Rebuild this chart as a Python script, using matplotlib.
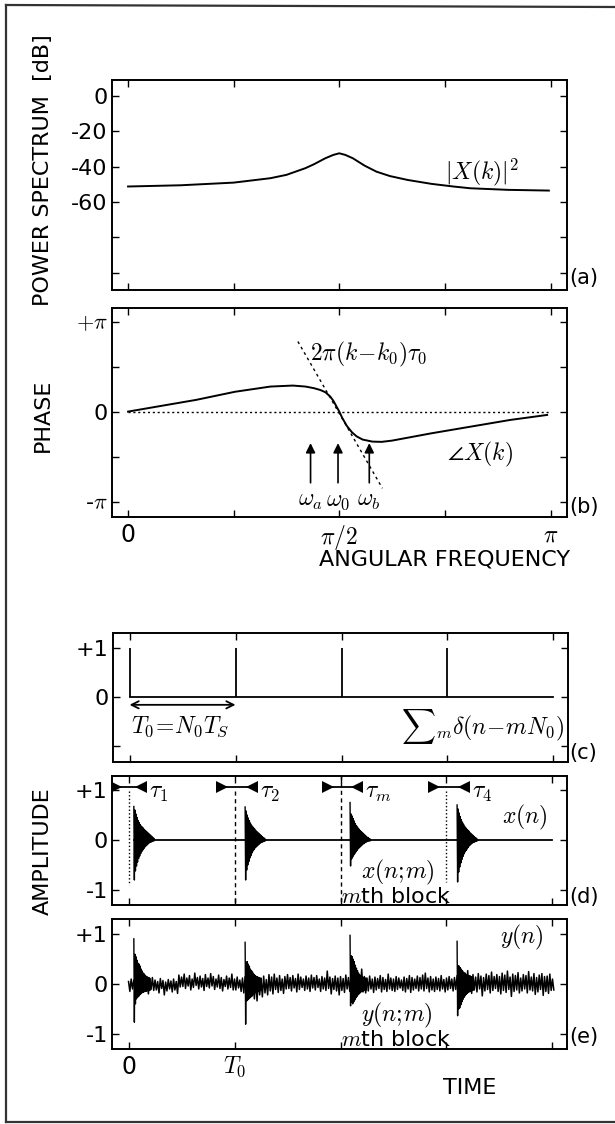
import matplotlib
matplotlib.use("Agg")
import matplotlib.pyplot as plt
from matplotlib.lines import Line2D

# ---- data ----
# (a) power spectrum, omega in units of pi
spec_w = [0.0, 0.125, 0.25, 0.337, 0.375, 0.42, 0.44, 0.467, 0.486, 0.50,
          0.514, 0.532, 0.56, 0.588, 0.62, 0.662, 0.718, 0.77, 0.81, 0.90, 0.996]
spec_db = [-51.2, -50.5, -49.0, -46.5, -44.6, -40.8, -38.6, -35.2, -33.3, -32.4,
           -33.3, -35.2, -39.4, -42.8, -45.3, -47.5, -49.7, -51.2, -52.2, -53.1, -53.5]

# (b) phase, in units of pi
phase_w = [0.0, 0.161, 0.253, 0.337, 0.39, 0.42, 0.44, 0.455, 0.467, 0.478, 0.486, 0.493,
           0.50, 0.507, 0.518, 0.53, 0.541, 0.555, 0.578, 0.60, 0.625, 0.718, 0.811, 0.904, 0.992]
phase_v = [0.0, 0.13, 0.22, 0.278, 0.289, 0.278, 0.26, 0.24, 0.215, 0.17, 0.12, 0.06,
           0.0, -0.07, -0.16, -0.23, -0.275, -0.31, -0.333, -0.336, -0.322, -0.241, -0.167, -0.093, -0.037]
tangent_w = [0.402, 0.602]
tangent_v = [0.778, -0.851]
omega_marks = [0.432, 0.497, 0.571]
omega_names = [r"$\omega_a$", r"$\omega_0$", r"$\omega_b$"]

# (c) impulse train, time in units of T0
comb_n = [0, 1, 2, 3]
comb_amp = [1, 1, 1, 1]
t_end = 4.0

# (d) delays per block and decaying bursts (envelope samples, 0.01 T0 apart)
tau = [0.05, 0.10, 0.09, 0.10]
tau_names = [r"$\tau_1$", r"$\tau_2$", r"$\tau_m$", r"$\tau_4$"]
burst_step = 0.01
x_hi = [
    [0.67, 0.60, 0.52, 0.45, 0.39, 0.35, 0.31, 0.28, 0.26, 0.24, 0.21, 0.19, 0.17, 0.15, 0.13, 0.11, 0.09, 0.07, 0.05, 0.03],
    [0.66, 0.58, 0.50, 0.44, 0.39, 0.34, 0.30, 0.27, 0.24, 0.22, 0.19, 0.17, 0.15, 0.13, 0.11, 0.09, 0.07, 0.05, 0.04, 0.02],
    [0.75, 0.52, 0.48, 0.43, 0.38, 0.33, 0.29, 0.26, 0.23, 0.20, 0.18, 0.16, 0.14, 0.12, 0.10, 0.08, 0.06, 0.05, 0.03, 0.02],
    [0.70, 0.62, 0.54, 0.47, 0.41, 0.36, 0.32, 0.28, 0.25, 0.22, 0.20, 0.18, 0.15, 0.13, 0.11, 0.09, 0.07, 0.05, 0.04, 0.02],
]
x_lo = [
    [-0.80, -0.62, -0.52, -0.44, -0.37, -0.32, -0.27, -0.23, -0.20, -0.17, -0.14, -0.12, -0.10, -0.08, -0.06, -0.05, -0.04, -0.03, -0.02, -0.01],
    [-0.80, -0.60, -0.50, -0.43, -0.36, -0.31, -0.26, -0.22, -0.19, -0.16, -0.14, -0.12, -0.10, -0.08, -0.06, -0.05, -0.04, -0.03, -0.02, -0.01],
    [-0.52, -0.38, -0.34, -0.30, -0.27, -0.24, -0.21, -0.18, -0.16, -0.14, -0.12, -0.10, -0.08, -0.07, -0.05, -0.04, -0.03, -0.02, -0.02, -0.01],
    [-0.84, -0.64, -0.54, -0.46, -0.39, -0.33, -0.28, -0.24, -0.21, -0.18, -0.15, -0.12, -0.10, -0.08, -0.06, -0.05, -0.04, -0.03, -0.02, -0.01],
]

# (e) noisy observation: noise extremes every 0.025 T0, plus bursts
noise_step = 0.025
noise_hi = [
    0.05, 0.10, 0.08, 0.12, 0.07, 0.11, 0.09, 0.06, 0.10, 0.13,
    0.08, 0.05, 0.11, 0.07, 0.04, 0.09, 0.06, 0.10, 0.05, 0.18,
    0.14, 0.20, 0.12, 0.17, 0.10, 0.22, 0.13, 0.16, 0.11, 0.19,
    0.12, 0.21, 0.15, 0.10, 0.18, 0.13, 0.09, 0.16, 0.12, 0.20,
    0.10, 0.14, 0.08, 0.12, 0.15, 0.11, 0.13, 0.09, 0.12, 0.10,
    0.11, 0.16, 0.09, 0.19, 0.14, 0.20, 0.12, 0.17, 0.10, 0.15,
    0.19, 0.13, 0.17, 0.11, 0.20, 0.14, 0.10, 0.16, 0.12, 0.18,
    0.13, 0.17, 0.10, 0.15, 0.12, 0.26, 0.14, 0.11, 0.16, 0.12,
    0.15, 0.11, 0.18, 0.13, 0.16, 0.12, 0.18, 0.14, 0.30, 0.15,
    0.12, 0.16, 0.10, 0.14, 0.11, 0.17, 0.13, 0.09, 0.20, 0.12,
    0.10, 0.15, 0.12, 0.08, 0.14, 0.11, 0.17, 0.13, 0.10, 0.16,
    0.13, 0.18, 0.22, 0.12, 0.15, 0.10, 0.14, 0.11, 0.17, 0.09,
    0.12, 0.15, 0.10, 0.13, 0.17, 0.14, 0.18, 0.22, 0.27, 0.16,
    0.19, 0.14, 0.21, 0.16, 0.13, 0.20, 0.17, 0.24, 0.15, 0.19,
    0.15, 0.22, 0.18, 0.26, 0.14, 0.20, 0.17, 0.23, 0.12, 0.19,
    0.17, 0.25, 0.14, 0.21, 0.13, 0.18, 0.21, 0.15, 0.16, 0.20,
    0.10]
noise_lo = [
    -0.15, -0.10, -0.14, -0.09, -0.17, -0.12, -0.08, -0.20, -0.11, -0.13,
    -0.12, -0.18, -0.09, -0.22, -0.14, -0.10, -0.16, -0.12, -0.19, -0.06,
    -0.05, -0.09, -0.04, -0.12, -0.07, -0.03, -0.10, -0.06, -0.13, -0.05,
    -0.08, -0.04, -0.11, -0.06, -0.09, -0.14, -0.05, -0.10, -0.07, -0.12,
    -0.12, -0.08, -0.15, -0.18, -0.14, -0.20, -0.25, -0.30, -0.34, -0.22,
    -0.26, -0.18, -0.22, -0.14, -0.20, -0.11, -0.17, -0.13, -0.19, -0.10,
    -0.09, -0.14, -0.08, -0.16, -0.11, -0.07, -0.13, -0.10, -0.15, -0.08,
    -0.12, -0.07, -0.15, -0.10, -0.13, -0.09, -0.20, -0.11, -0.14, -0.22,
    -0.13, -0.17, -0.10, -0.15, -0.20, -0.14, -0.19, -0.12, -0.16, -0.18,
    -0.14, -0.10, -0.17, -0.12, -0.09, -0.16, -0.11, -0.15, -0.10, -0.13,
    -0.15, -0.11, -0.08, -0.13, -0.16, -0.10, -0.17, -0.12, -0.09, -0.14,
    -0.10, -0.14, -0.09, -0.16, -0.12, -0.15, -0.11, -0.14, -0.10, -0.16,
    -0.12, -0.09, -0.14, -0.11, -0.16, -0.18, -0.22, -0.15, -0.14, -0.19,
    -0.12, -0.16, -0.10, -0.24, -0.14, -0.11, -0.18, -0.13, -0.09, -0.15,
    -0.20, -0.13, -0.17, -0.11, -0.25, -0.15, -0.12, -0.18, -0.14, -0.10,
    -0.18, -0.12, -0.14, -0.21, -0.16, -0.11, -0.23, -0.15, -0.19, -0.13,
    -0.12]
y_hi = [
    [0.91, 0.60, 0.55, 0.48, 0.42, 0.40, 0.36, 0.30, 0.26, 0.22, 0.20, 0.17, 0.15, 0.14, 0.13, 0.12],
    [0.84, 0.44, 0.45, 0.40, 0.36, 0.30, 0.27, 0.24, 0.20, 0.18, 0.16, 0.15, 0.14, 0.13, 0.12, 0.12],
    [0.98, 0.57, 0.55, 0.50, 0.45, 0.38, 0.32, 0.27, 0.22, 0.19, 0.17, 0.15, 0.14, 0.13, 0.12, 0.12],
    [0.86, 0.37, 0.36, 0.33, 0.30, 0.27, 0.24, 0.22, 0.20, 0.19, 0.18, 0.17, 0.16, 0.15, 0.14, 0.13],
]
y_lo = [
    [-0.77, -0.40, -0.30, -0.27, -0.25, -0.22, -0.20, -0.18, -0.17, -0.16, -0.15, -0.15, -0.14, -0.13, -0.13, -0.12],
    [-0.81, -0.34, -0.32, -0.30, -0.28, -0.26, -0.24, -0.22, -0.20, -0.18, -0.17, -0.16, -0.15, -0.14, -0.13, -0.12],
    [-0.44, -0.37, -0.40, -0.36, -0.32, -0.28, -0.25, -0.22, -0.20, -0.18, -0.16, -0.15, -0.14, -0.13, -0.12, -0.12],
    [-0.64, -0.50, -0.48, -0.42, -0.36, -0.31, -0.27, -0.24, -0.21, -0.19, -0.17, -0.16, -0.15, -0.14, -0.13, -0.12],
]

W, H = 615, 1124


def box(l, t, r, b):
    return [l / W, 1 - b / H, (r - l) / W, (b - t) / H]


def zigzag(ax, start, step, hi, lo, lw=1.0):
    # alternate between upper and lower extremes to draw a dense trace
    xs, ys = [], []
    for k in range(len(hi)):
        xs += [start + k * step, start + (k + 0.5) * step]
        ys += [hi[k], lo[k]]
    ax.plot(xs, ys, color="k", lw=lw)


def style(ax):
    ax.tick_params(direction="in", top=True, right=True, length=5, width=1,
                   labelsize=16, pad=3)
    for s in ax.spines.values():
        s.set_linewidth(1.4)


def main():
    plt.rcParams["font.family"] = ["DejaVu Sans"]
    plt.rcParams["mathtext.fontset"] = "cm"
    plt.rcParams["axes.unicode_minus"] = False

    fig = plt.figure(figsize=(6.15, 11.24), dpi=100)

    # ---- (a) power spectrum ----
    ax = fig.add_axes(box(112, 80, 567, 290))
    ax.plot(spec_w, spec_db, color="k", lw=1.4)
    ax.set_xlim(-0.038, 1.039)
    ax.set_ylim(-109.8, 9.1)
    ax.set_xticks([0, 0.25, 0.5, 0.75, 1.0], [""] * 5)
    ax.set_yticks([0, -20, -40, -60, -80, -100], ["0", "-20", "-40", "-60", "", ""])
    style(ax)
    ax.text(0.75, -43, r"$|X(k)|^2$", fontsize=17, va="center", ha="left")

    # ---- (b) phase ----
    ax = fig.add_axes(box(112, 308, 567, 517))
    ax.plot([0, 1], [0, 0], color="k", lw=1.0, ls=(0, (1.5, 2)))
    ax.plot(tangent_w, tangent_v, color="k", lw=1.0, ls=(0, (2, 2.5)))
    ax.plot(phase_w, phase_v, color="k", lw=1.4)
    for w in omega_marks:
        ax.annotate("", xy=(w, -0.35), xytext=(w, -0.79),
                    arrowprops=dict(arrowstyle="-|>", color="k", lw=1.2,
                                    mutation_scale=14, shrinkA=0, shrinkB=0))
    for w, name in zip(omega_marks, omega_names):
        ax.text(w, -0.98, name, fontsize=17, ha="center", va="center")
    ax.text(0.43, 0.63, r"$2\pi(k\!-\!k_0)\tau_0$", fontsize=17, va="center", ha="left")
    ax.text(0.755, -0.48, r"$\angle X(k)$", fontsize=17, va="center", ha="left")
    ax.set_xlim(-0.038, 1.039)
    ax.set_ylim(-1.17, 1.15)
    ax.set_xticks([0, 0.25, 0.5, 0.75, 1.0], ["0", "", r"$\pi/2$", "", r"$\pi$"])
    ax.set_yticks([-1, -0.5, 0, 0.5, 1], [r"-$\pi$", "", "0", "", r"$+\pi$"])
    style(ax)
    ax.tick_params(axis="x", labelsize=17, pad=4)

    # ---- (c) impulse train ----
    ax = fig.add_axes(box(113, 633, 568, 762))
    ax.plot([0, t_end], [0, 0], color="k", lw=1.3)
    ax.vlines(comb_n, 0, comb_amp, color="k", lw=1.3)
    ax.annotate("", xy=(comb_n[0], -0.16), xytext=(comb_n[1], -0.16),
                arrowprops=dict(arrowstyle="<->", color="k", lw=1.3,
                                mutation_scale=13, shrinkA=0, shrinkB=0))
    ax.text(comb_n[0] + 0.01, -0.61, r"$T_0\!=\!N_0T_S$", fontsize=17, va="center")
    ax.text(4.1, -0.61, r"${\sum}_m\delta(n\!-\!mN_0)$", fontsize=17, va="center", ha="right")
    ax.set_xlim(-0.156, 4.137)
    ax.set_ylim(-1.327, 1.306)
    ax.set_xticks([0, 1, 2, 3, 4], [""] * 5)
    ax.set_yticks([-1, 0, 1], ["", "0", "+1"])
    style(ax)

    # ---- (d) clean signal x(n) ----
    ax = fig.add_axes(box(112, 776, 567, 905))
    ax.plot([tau[0], t_end], [0, 0], color="k", lw=1.3)
    ax.plot([0, 0], [0.98, -0.89], color="k", lw=1.0, ls=(0, (1, 1.6)))
    ax.plot([1, 1], [0.98, -1.3], color="k", lw=1.0, ls=(0, (3, 2.5)))
    ax.plot([2, 2], [1.3, -1.3], color="k", lw=1.0, ls=(0, (3, 2.5)))
    ax.plot([3, 3], [0.98, -0.84], color="k", lw=1.0, ls=(0, (1, 1.6)))
    for m in range(4):
        onset = m + tau[m]
        zigzag(ax, onset, burst_step, x_hi[m], x_lo[m])
        left, right = m - 0.15, onset + 0.10
        ax.plot([left, right], [1.06, 1.06], color="k", lw=1.3)
        ax.plot([left + 0.035], [1.06], marker=">", color="k", ms=8, mew=0)
        ax.plot([right - 0.035], [1.06], marker="<", color="k", ms=8, mew=0)
        ax.text(right + 0.04, 0.96, tau_names[m], fontsize=17, va="center")
    ax.text(3.74, 0.46, r"$x(n)$", fontsize=17, va="center", ha="center")
    ax.text(2.19, -0.64, r"$x(n;\!m)$", fontsize=17, va="center")
    ax.text(2.0, -1.14, r"$m$th block", fontsize=16, va="center")
    ax.set_xlim(-0.156, 4.137)
    ax.set_ylim(-1.30, 1.28)
    ax.set_xticks([0, 1, 2, 3, 4], [""] * 5)
    ax.set_yticks([-1, 0, 1], ["-1", "0", "+1"])
    style(ax)

    # ---- (e) noisy signal y(n) ----
    ax = fig.add_axes(box(112, 919, 567, 1049))
    zigzag(ax, 0.0, noise_step, noise_hi, noise_lo, lw=1.1)
    for m in range(4):
        zigzag(ax, m + tau[m], burst_step, y_hi[m], y_lo[m])
    ax.text(3.71, 0.93, r"$y(n)$", fontsize=17, va="center", ha="center")
    ax.text(2.19, -0.63, r"$y(n;\!m)$", fontsize=17, va="center")
    ax.text(2.0, -1.13, r"$m$th block", fontsize=16, va="center")
    ax.set_xlim(-0.156, 4.137)
    ax.set_ylim(-1.31, 1.31)
    ax.set_xticks([0, 1, 2, 3, 4], ["0", r"$T_0$", "", "", ""])
    ax.set_yticks([-1, 0, 1], ["-1", "0", "+1"])
    style(ax)
    ax.tick_params(axis="x", labelsize=17, pad=4)

    # ---- figure level labels ----
    fig.text(43 / W, 1 - 170 / H, "POWER SPECTRUM  [dB]", rotation=90, fontsize=16,
             ha="center", va="center")
    fig.text(43 / W, 1 - 415 / H, "PHASE", rotation=90, fontsize=16, ha="center", va="center")
    fig.text(43 / W, 1 - 851 / H, "AMPLITUDE", rotation=90, fontsize=16, ha="center", va="center")
    fig.text(445 / W, 1 - 560 / H, "ANGULAR FREQUENCY", fontsize=16, ha="center", va="center")
    fig.text(470 / W, 1 - 1088 / H, "TIME", fontsize=16, ha="center", va="center")
    for lab, y in zip(["(a)", "(b)", "(c)", "(d)", "(e)"], [278, 507, 753, 897, 1037]):
        fig.text(569 / W, 1 - y / H, lab, fontsize=15, ha="left", va="center")

    # outer frame of the scanned page
    fig.add_artist(Line2D([6 / W, 6 / W], [1 - 5 / H, 1 - 1122 / H], color="#333333", lw=1.6))
    fig.add_artist(Line2D([6 / W, 1.0], [1 - 5 / H, 1 - 7 / H], color="#333333", lw=1.6))
    fig.add_artist(Line2D([6 / W, 1.0], [1 - 1122 / H, 1 - 1122 / H], color="#333333", lw=1.6))

    fig.savefig("out.png", dpi=100)
    plt.close(fig)


if __name__ == "__main__":
    main()
